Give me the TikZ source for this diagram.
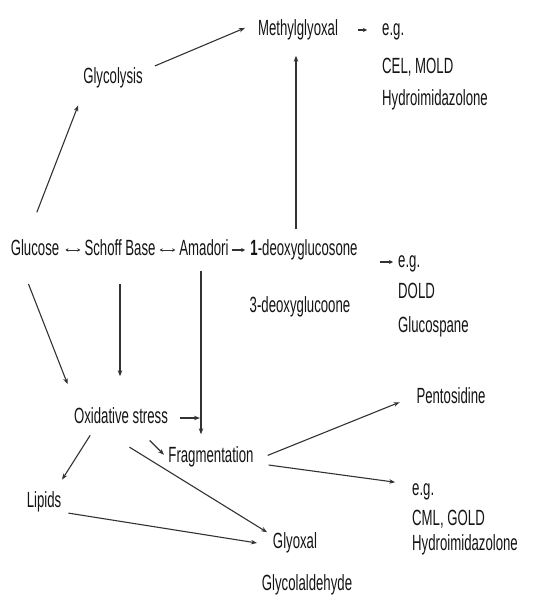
\documentclass[tikz,border=0pt]{standalone}
\usepackage{fontspec}
\setmainfont[FakeStretch=0.6]{Liberation Sans}
\usetikzlibrary{arrows.meta}
\definecolor{pathline}{RGB}{50,50,50}
\definecolor{pathtext}{RGB}{20,20,20}

\tikzset{
  lbl/.style={font=\fontsize{22}{26}\selectfont,text=pathtext,inner sep=0pt,text height=15pt,text depth=4pt},
  eglbl/.style={lbl,anchor=west},
  arr/.style={draw=pathline,line width=1.1pt,-{Stealth[length=6pt,width=4.5pt]}},
  twoway/.style={draw=pathline,line width=0.9pt,{Stealth[length=3pt,width=3.5pt]}-{Stealth[length=3pt,width=3.5pt]}}
}

\begin{document}
\begin{tikzpicture}[x=1pt,y=-1pt]
\useasboundingbox (0,0) rectangle (541,605);

% main row
\node [lbl] (glucose) at (35,250) {Glucose};
\node [lbl] (schoff) at (120,250) {Schoff Base};
\node [lbl] (amadori) at (204,250) {Amadori};
\node [lbl] (deoxy1) at (304,250) {\textbf{1}-deoxyglucosone};
\node [lbl] (deoxy3) at (300,307) {3-deoxyglucoone};

\node [lbl] (glycolysis) at (113,78) {Glycolysis};
\node [lbl] (methyl) at (298,30) {Methylglyoxal};
\node [lbl] (oxid) at (121,418) {Oxidative stress};
\node [lbl] (frag) at (211,457) {Fragmentation};
\node [lbl] (lipids) at (44,502) {Lipids};
\node [lbl] (glyoxal) at (295,543) {Glyoxal};
\node [lbl] (glycolald) at (307,585) {Glycolaldehyde};
\node [lbl] (pentosidine) at (451,398) {Pentosidine};

% examples
\node [eglbl] (eg1) at (382,30) {e.g.};
\node [eglbl] (cel) at (382,68) {CEL, MOLD};
\node [eglbl] (hydro1) at (382,100) {Hydroimidazolone};
\node [eglbl] (eg2) at (398,262) {e.g.};
\node [eglbl] (dold) at (398,293) {DOLD};
\node [eglbl] (glucospane) at (398,327) {Glucospane};
\node [eglbl] (eg3) at (412,490) {e.g.};
\node [eglbl] (cml) at (412,520) {CML, GOLD};
\node [eglbl] (hydro2) at (412,545) {Hydroimidazolone};

\draw [twoway,shorten <=6pt,shorten >=4pt] (glucose.east) -- (schoff.west);
\draw [twoway,shorten <=4pt,shorten >=4pt] (schoff.east) -- (amadori.west);
\draw [arr,shorten <=3pt,shorten >=5pt,-{Stealth[length=4pt,width=4pt]}] (amadori.east) -- (deoxy1.west);
\draw [arr,shorten <=22pt,shorten >=5pt,-{Stealth[length=4pt,width=4pt]}] (deoxy1.east |- eg2.west) -- (eg2.west);
\draw [arr,shorten <=20pt,shorten >=15pt,-{Stealth[length=4pt,width=4pt]}] (methyl.east) -- (eg1.west);

\draw [arr,shorten <=30pt,shorten >=19pt] ([xshift=-9pt]glucose.north) -- ([xshift=-28pt]glycolysis.south);
\draw [arr,shorten <=13pt,shorten >=14pt] ([yshift=7pt]glycolysis.east) -- ([yshift=7.5pt]methyl.west);
\draw [arr,shorten <=11pt,shorten >=16pt] ([xshift=-2pt]methyl.south |- deoxy1.north) -- ([xshift=-2pt]methyl.south);

\draw [arr,shorten <=26pt,shorten >=26pt] ([xshift=-16pt]glucose.south) -- ([xshift=-44pt]oxid.north);
\draw [arr,shorten <=24pt,shorten >=32pt] (schoff.south) -- (schoff.south |- oxid.north);
\draw [arr,shorten <=11pt,shorten >=13pt] ([xshift=-3pt]amadori.south) -- ([xshift=-3pt]amadori.south |- frag.north);
\coordinate (joint) at ([xshift=-3pt]amadori.south |- oxid.east);
\draw [arr,shorten <=12pt,shorten >=1pt] (oxid.east) -- (joint);

\draw [arr,shorten <=18pt,shorten >=6pt] ([xshift=16pt]oxid.south) -- ([yshift=-2pt]frag.west);
\draw [arr,shorten <=9pt,shorten >=15pt] ([xshift=-26pt]oxid.south) -- ([xshift=10pt]lipids.north);
\draw [arr,shorten <=37pt,shorten >=2pt] ([xshift=-23pt]oxid.south) -- ([xshift=-4pt]glyoxal.north west);
\draw [arr,shorten <=7pt,shorten >=16pt] ([yshift=-10pt]lipids.east) -- ([yshift=-2.5pt]glyoxal.west);

\draw [arr,shorten <=15pt,shorten >=18pt] ([yshift=-4pt]frag.east) -- ([yshift=2.5pt]pentosidine.west);
\draw [arr,shorten <=15pt,shorten >=17pt] ([yshift=-6pt]frag.east) -- ([yshift=5.5pt]eg3.west);
\end{tikzpicture}
\end{document}
